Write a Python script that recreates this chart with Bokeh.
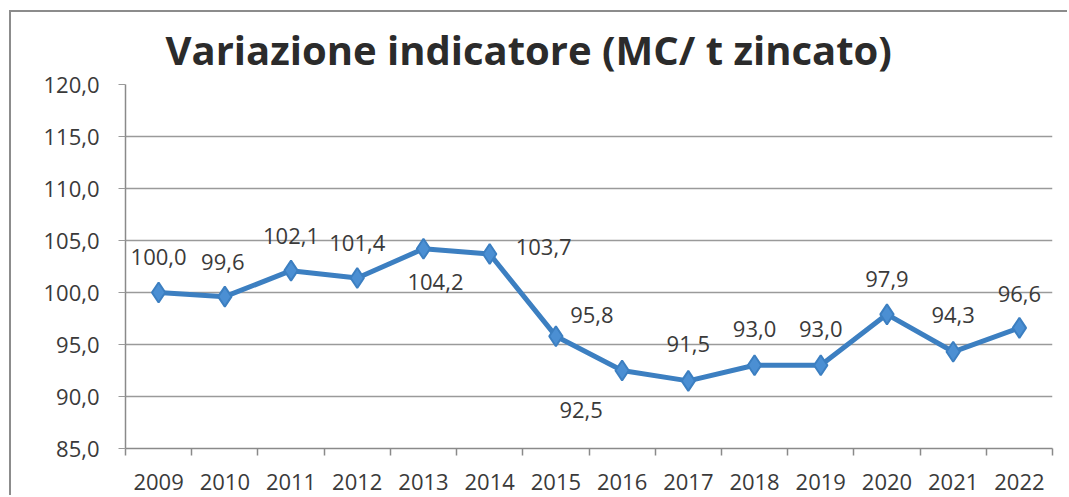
from bokeh.plotting import figure
from bokeh.models import FixedTicker, Range1d, ColumnDataSource
from bokeh.core.properties import value
from bokeh.embed import file_html
from bokeh.resources import INLINE

# ---- data ----
years = [2009, 2010, 2011, 2012, 2013, 2014, 2015, 2016, 2017, 2018, 2019, 2020, 2021, 2022]
indicator = [100.0, 99.6, 102.1, 101.4, 104.2, 103.7, 95.8, 92.5, 91.5, 93.0, 93.0, 97.9, 94.3, 96.6]
y_ticks = [85, 90, 95, 100, 105, 110, 115, 120]
title_text = "Variazione indicatore (MC/ t zincato)"

# label placement (pixel offsets from each point, Excel-like)
label_dx = [0, -2, 0, 0, 12, 54, 36, -41, 0, 0, 0, 0, 0, 0]
label_dy = [-36, -35, -35, -35, 33, -7, -21, 39, -37, -36, -36, -35, -37, -34]

def fmt(v):
    return f"{v:.1f}".replace(".", ",")

FONT = "Open Sans"
TXT = "#3a3a3a"
GRID = "#9a9a9a"
BLUE = "#3c7fc1"

src = ColumnDataSource(dict(
    x=years, y=indicator, lab=[fmt(v) for v in indicator],
    dx=label_dx, dy=label_dy,
))

p = figure(width=1058, height=485, output_backend="svg", toolbar_location=None,
           x_range=Range1d(years[0] - 0.5, years[-1] + 0.5),
           y_range=Range1d(y_ticks[0], y_ticks[-1]))
p.min_border_left = 114
p.min_border_right = 17
p.min_border_top = 68
p.min_border_bottom = 49
p.outline_line_color = None
p.background_fill_color = "white"
p.border_fill_color = "white"
p.styles = {"border-left": "2px solid #8c8c8c", "border-top": "2px solid #8c8c8c",
            "margin-left": "9px", "margin-top": "10px"}

# title
p.title.text = title_text
p.title.align = "left"
p.title.offset = 40
p.title.text_font = FONT
p.title.text_font_style = "bold"
p.title.text_font_size = "40px"
p.title.text_color = "#2b2b2b"
p.title.standoff = 15

# y axis
p.yaxis.ticker = FixedTicker(ticks=y_ticks)
p.yaxis.major_label_overrides = {t: fmt(t) for t in y_ticks}
p.yaxis.axis_line_color = "#8a8a8a"
p.yaxis.axis_line_width = 1.5
p.yaxis.major_tick_line_color = GRID
p.yaxis.major_tick_out = 7
p.yaxis.major_tick_in = 0
p.yaxis.minor_tick_line_color = None
p.yaxis.major_label_standoff = 19
p.yaxis.major_label_text_font = FONT
p.yaxis.major_label_text_font_size = "22px"
p.yaxis.major_label_text_color = TXT

# x axis: labels at centers, ticks between categories
p.xaxis.ticker = FixedTicker(ticks=years, minor_ticks=[years[0] - 0.5] + [y + 0.5 for y in years])
p.xaxis.major_label_overrides = {y: str(y) for y in years}
p.xaxis.axis_line_color = "#8a8a8a"
p.xaxis.axis_line_width = 1.5
p.xaxis.major_tick_line_color = None
p.xaxis.major_tick_out = 0
p.xaxis.major_tick_in = 0
p.xaxis.minor_tick_line_color = "#8a8a8a"
p.xaxis.minor_tick_line_width = 1.5
p.xaxis.minor_tick_out = 7
p.xaxis.minor_tick_in = 0
p.xaxis.major_label_standoff = 18
p.xaxis.major_label_text_font = FONT
p.xaxis.major_label_text_font_size = "22px"
p.xaxis.major_label_text_color = TXT

p.xgrid.visible = False
p.ygrid.ticker = FixedTicker(ticks=y_ticks)
p.ygrid.grid_line_color = GRID
p.ygrid.grid_line_width = 1.5

# series
p.line("x", "y", source=src, line_width=5, line_color=BLUE)
p.scatter("x", "y", source=src, marker="diamond", size=20,
          fill_color="#4b8fd3", line_color=BLUE, line_width=2)

p.text("x", "y", text="lab", source=src, x_offset="dx", y_offset="dy",
       text_align="center", text_baseline="middle",
       text_font=value(FONT), text_font_size="22px", text_color=TXT)

open("out.html", "w").write(file_html(p, INLINE))
